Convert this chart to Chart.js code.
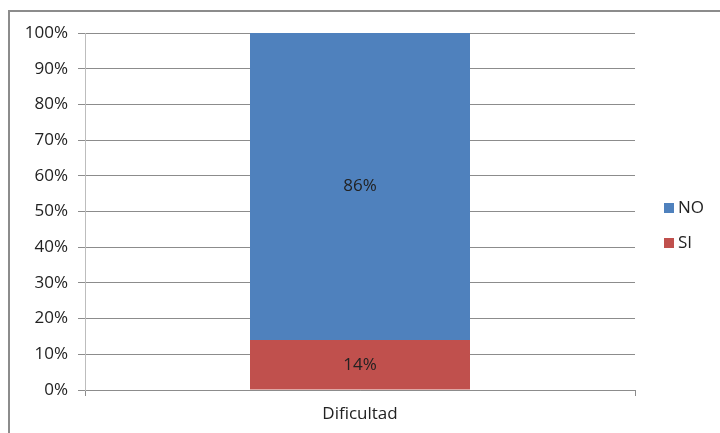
<!DOCTYPE html>
<html>
<head>
<meta charset="utf-8">
<script src="https://cdn.jsdelivr.net/npm/chart.js@4/dist/chart.umd.min.js"></script>
<style>
  html, body { margin: 0; padding: 0; background: #fff; overflow: hidden; }
  #frame { position: absolute; left: 8px; top: 10px; width: 720px; height: 440px;
           border-left: 2px solid #8c8c8c; border-top: 2px solid #8c8c8c; }
  #wrap { position: absolute; left: 0; top: 0; width: 720px; height: 433px; }
</style>
</head>
<body>
<div id="frame"></div>
<div id="wrap"><canvas id="chart"></canvas></div>
<script>
const categories = ['Dificultad'];
const siValues = [14];
const noValues = [86];
const yTicks = [0, 10, 20, 30, 40, 50, 60, 70, 80, 90, 100];

const FONT = "'Open Sans', 'Liberation Sans', sans-serif";
const SIZE = 17;

// percent labels in the middle of each segment
const valueLabels = {
    id: 'valueLabels',
    afterDatasetsDraw(chart) {
        const ctx = chart.ctx;
        ctx.save();
        ctx.font = SIZE + 'px ' + FONT;
        ctx.fillStyle = '#222';
        ctx.textAlign = 'center';
        ctx.textBaseline = 'middle';
        chart.data.datasets.forEach((ds, i) => {
            chart.getDatasetMeta(i).data.forEach((bar, j) => {
                const y = (bar.y + bar.base) / 2;
                ctx.fillText(ds.data[j] + '%', bar.x, y);
            });
        });
        ctx.restore();
    }
};

// legend on the right, last series on top like the original
const sideLegend = {
    id: 'sideLegend',
    afterDraw(chart) {
        const ctx = chart.ctx;
        const items = chart.data.datasets.slice().reverse();
        ctx.save();
        ctx.font = SIZE + 'px ' + FONT;
        ctx.textBaseline = 'middle';
        items.forEach((ds, i) => {
            const y = 208 + i * 35;
            ctx.fillStyle = ds.backgroundColor;
            ctx.fillRect(664, y - 5, 10, 10);
            ctx.fillStyle = '#222';
            ctx.fillText(ds.label, 678, y);
        });
        ctx.restore();
    }
};

new Chart(document.getElementById('chart'), {
    type: 'bar',
    data: {
        labels: categories,
        datasets: [
            { label: 'SI', data: siValues, backgroundColor: '#C0504D',
              categoryPercentage: 1, barPercentage: 0.4 },
            { label: 'NO', data: noValues, backgroundColor: '#4F81BD',
              categoryPercentage: 1, barPercentage: 0.4 }
        ]
    },
    options: {
        responsive: true,
        maintainAspectRatio: false,
        animation: false,
        layout: { padding: { left: 0, top: 33, right: 85, bottom: 0 } },
        plugins: {
            legend: { display: false },
            tooltip: { enabled: false }
        },
        scales: {
            x: {
                stacked: true,
                grid: { drawOnChartArea: false, drawTicks: true, tickLength: 6, color: '#8c8c8c' },
                border: { color: '#8c8c8c' },
                ticks: { color: '#222', font: { family: FONT, size: SIZE }, padding: 8 },
                afterFit(scale) { scale.height = 43; }
            },
            y: {
                stacked: true,
                min: 0,
                max: 100,
                afterBuildTicks(scale) { scale.ticks = yTicks.map(v => ({ value: v })); },
                grid: { color: '#8c8c8c', tickLength: 7 },
                border: { color: '#bdbdbd' },
                ticks: {
                    color: '#222',
                    font: { family: FONT, size: SIZE },
                    padding: 10,
                    callback: v => v + '%'
                },
                afterFit(scale) { scale.width = 85; }
            }
        }
    },
    plugins: [valueLabels, sideLegend]
});
</script>
</body>
</html>
